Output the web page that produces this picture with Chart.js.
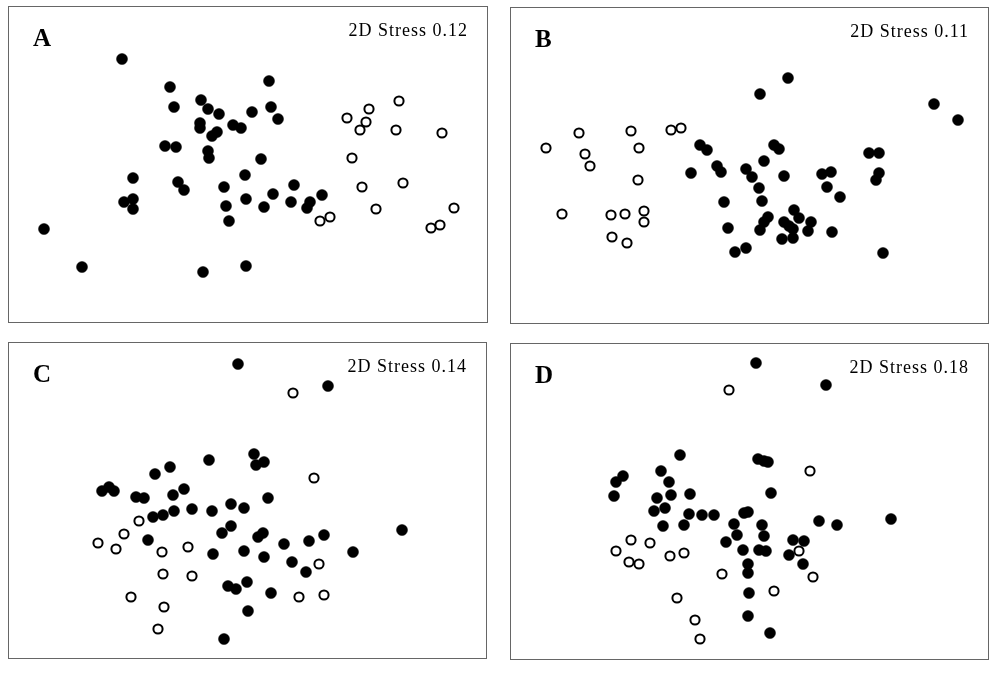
<!DOCTYPE html>
<html>
<head>
<meta charset="utf-8">
<script src="https://cdn.jsdelivr.net/npm/chart.js@4/dist/chart.umd.min.js"></script>
<style>
    body { margin: 0; background: #fff; width: 998px; height: 673px; position: relative; font-family: "Liberation Serif", "DejaVu Serif", serif; }
    .panel { position: absolute; border: 1px solid #666; box-sizing: border-box; background: #fff; }
    .panel canvas { position: absolute; left: 0; top: 0; }
    .tag { position: absolute; left: 24px; top: 18px; font-size: 25px; font-weight: bold; line-height: 25px; color: #000; }
    .stress { position: absolute; right: 19px; top: 14px; font-size: 18px; line-height: 18px; color: #000; letter-spacing: 1px; }
</style>
</head>
<body>
<div class="panel" id="panelA" style="left:8px;top:6px;width:480px;height:317px"><canvas id="chartA"></canvas><div class="tag">A</div><div class="stress">2D Stress 0.12</div></div>
<div class="panel" id="panelB" style="left:510px;top:7px;width:479px;height:317px"><canvas id="chartB"></canvas><div class="tag">B</div><div class="stress">2D Stress 0.11</div></div>
<div class="panel" id="panelC" style="left:8px;top:342px;width:479px;height:317px"><canvas id="chartC"></canvas><div class="tag">C</div><div class="stress">2D Stress 0.14</div></div>
<div class="panel" id="panelD" style="left:510px;top:343px;width:479px;height:317px"><canvas id="chartD"></canvas><div class="tag">D</div><div class="stress">2D Stress 0.18</div></div>
<script>
// ordination scores, as [axis1, axis2]
const filledA = [[113,263],[161,235],[165,215],[192,222],[199,213],[210,208],[191,199],[191,194],[203,186],[208,190],
    [224,197],[232,194],[243,210],[156,176],[167,175],[199,171],[200,164],[124,144],[169,140],[175,132],
    [215,135],[236,147],[237,123],[115,120],[124,123],[124,113],[217,116],[220,101],[35,93],[73,55],
    [194,50],[237,56],[260,241],[262,215],[269,203],[252,163],[264,128],[255,115],[285,137],[282,120],
    [301,120],[298,114],[313,127]];
const openA = [[338,204],[360,213],[357,200],[351,192],[390,221],[387,192],[433,189],[343,164],[353,135],[394,139],
    [367,113],[311,101],[321,105],[422,94],[431,97],[445,114]];

const filledB = [[189,178],[196,173],[180,150],[206,157],[210,151],[235,154],[241,146],[213,121],[217,95],[224,71],
    [235,75],[277,245],[249,229],[423,219],[447,203],[263,178],[268,174],[253,162],[273,147],[248,135],
    [251,122],[311,149],[320,151],[316,136],[329,126],[358,170],[368,170],[368,150],[365,143],[283,113],
    [257,106],[253,101],[249,93],[273,101],[278,97],[288,105],[282,94],[271,84],[282,85],[300,101],
    [297,92],[321,91],[372,70]];
const openB = [[35,175],[68,190],[74,169],[79,157],[120,192],[128,175],[127,143],[51,109],[100,108],[114,109],
    [133,112],[133,101],[101,86],[116,80],[160,193],[170,195]];

const filledC = [[229,294],[200,198],[245,204],[247,193],[255,196],[161,191],[146,184],[93,167],[100,171],[105,167],
    [127,161],[135,160],[164,163],[175,169],[144,141],[154,143],[165,147],[183,149],[203,147],[222,154],
    [235,150],[222,132],[213,125],[139,118],[204,104],[235,107],[219,72],[227,69],[238,76],[239,47],
    [215,19],[319,272],[259,160],[393,128],[249,121],[254,125],[275,114],[300,117],[315,123],[255,101],
    [344,106],[283,96],[297,86],[262,65]];
const openC = [[130,137],[115,124],[89,115],[107,109],[153,106],[179,111],[154,84],[183,82],[122,61],[155,51],
    [149,29],[284,265],[305,180],[310,94],[290,61],[315,63]];

const filledD = [[169,204],[112,183],[105,177],[103,163],[150,188],[158,177],[160,164],[146,161],[179,165],[143,148],
    [154,151],[178,145],[191,144],[203,144],[173,134],[152,133],[233,146],[237,147],[223,135],[226,124],
    [215,117],[232,109],[237,95],[237,86],[238,66],[237,43],[245,296],[315,274],[247,200],[253,198],
    [257,197],[260,166],[308,138],[326,134],[380,140],[251,134],[253,123],[248,109],[255,108],[282,119],
    [293,118],[278,104],[292,95],[259,26]];
const openD = [[218,269],[120,119],[139,116],[105,108],[118,97],[128,95],[159,103],[173,106],[211,85],[166,61],
    [184,39],[189,20],[299,188],[288,108],[302,82],[263,68]];

const panels = [
    { id: "chartA", filled: filledA, open: openA, w: 480, h: 317 },
    { id: "chartB", filled: filledB, open: openB, w: 479, h: 317 },
    { id: "chartC", filled: filledC, open: openC, w: 479, h: 317 },
    { id: "chartD", filled: filledD, open: openD, w: 479, h: 317 }
];

function toPoints(arr) {
    return arr.map(p => ({ x: p[0], y: p[1] }));
}

panels.forEach(p => {
    const canvas = document.getElementById(p.id);
    canvas.width = p.w - 2;
    canvas.height = p.h - 2;
    canvas.style.width = (p.w - 2) + "px";
    canvas.style.height = (p.h - 2) + "px";

    new Chart(canvas.getContext("2d"), {
        type: "scatter",
        data: {
            datasets: [
                {
                    // first dataset is drawn on top
                    data: toPoints(p.open),
                    pointRadius: 4.6,
                    pointBackgroundColor: "#fff",
                    pointBorderColor: "#000",
                    pointBorderWidth: 2
                },
                {
                    data: toPoints(p.filled),
                    pointRadius: 5.5,
                    pointBackgroundColor: "#000",
                    pointBorderColor: "#000",
                    pointBorderWidth: 0.5
                }
            ]
        },
        options: {
            responsive: false,
            animation: false,
            events: [],
            layout: { padding: 0, autoPadding: false },
            clip: false,
            plugins: { legend: { display: false }, tooltip: { enabled: false } },
            scales: {
                x: { type: "linear", display: false, min: 0, max: p.w - 2 },
                y: { type: "linear", display: false, min: 0, max: p.h - 2 }
            }
        }
    });
});
</script>
</body>
</html>
